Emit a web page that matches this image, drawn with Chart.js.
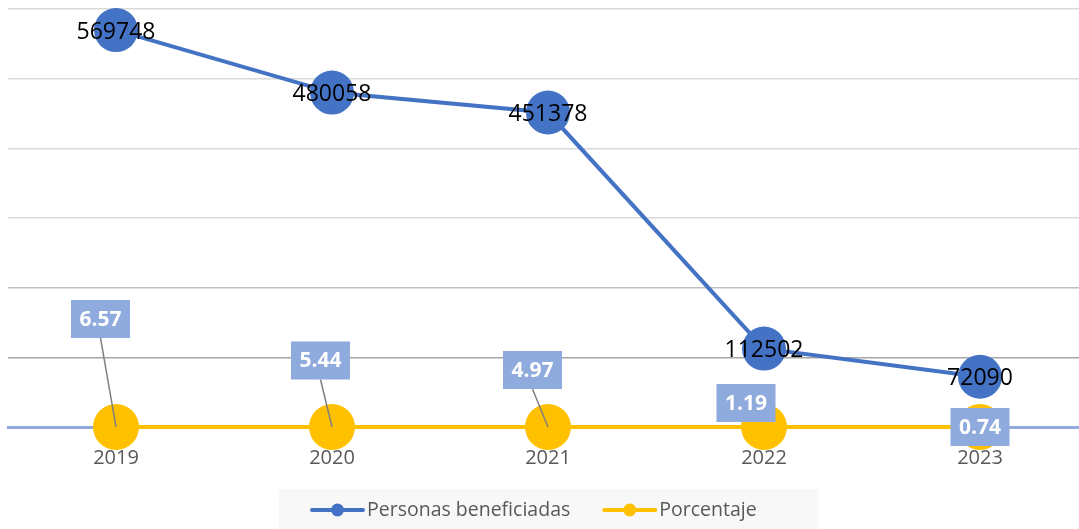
<!DOCTYPE html>
<html>
<head>
<meta charset="utf-8">
<script src="https://cdn.jsdelivr.net/npm/chart.js@4.4.1/dist/chart.umd.min.js"></script>
<style>
  html, body { margin: 0; padding: 0; background: #ffffff; overflow: hidden; }
  #wrap { position: relative; width: 1088px; height: 529px; }
  #chart { display: block; }
</style>
</head>
<body>
<div id="wrap"><canvas id="chart" width="1088" height="529"></canvas></div>
<script>
// Años y series
const years = ['2019', '2020', '2021', '2022', '2023'];
const personasBeneficiadas = [569748, 480058, 451378, 112502, 72090];
const porcentaje = [6.57, 5.44, 4.97, 1.19, 0.74];

// Eje vertical (sin etiquetas visibles)
const yMin = 0;
const yMax = 600000;
const yStep = 100000;

// Desplazamiento (px) de cada cuadro de porcentaje respecto a su punto
const pctLabelOffsets = [[-15.5, -108], [-11.5, -66.5], [-15.5, -57], [-18, -24], [0, 0]];

const BLUE = '#4472C4';
const GOLD = '#FFC000';
const LABEL_BG = '#8FAADC';
const TEXT_GRAY = '#595959';
const FONT = '"Open Sans", "Noto Sans", sans-serif';

// Etiquetas de valores y leyenda dibujadas sobre el lienzo
const labelsPlugin = {
  id: 'valueLabels',
  afterDatasetsDraw(chart) {
    const ctx = chart.ctx;
    ctx.save();

    // Personas beneficiadas: número centrado sobre el círculo
    const m0 = chart.getDatasetMeta(0);
    ctx.font = '23px ' + FONT;
    ctx.fillStyle = '#000000';
    ctx.textAlign = 'center';
    ctx.textBaseline = 'middle';
    m0.data.forEach((pt, i) => {
      ctx.fillText(String(personasBeneficiadas[i]), pt.x, pt.y + 2);
    });

    // Porcentaje: cuadro azul claro con línea guía
    const m1 = chart.getDatasetMeta(1);
    ctx.font = 'bold 21px ' + FONT;
    m1.data.forEach((pt, i) => {
      const [dx, dy] = pctLabelOffsets[i];
      const cx = pt.x + dx, cy = pt.y + dy;
      const txt = porcentaje[i].toFixed(2);
      const w = 59, h = 38;
      if (Math.hypot(dx, dy) > 35) {
        ctx.strokeStyle = '#7F7F7F';
        ctx.lineWidth = 1.5;
        ctx.beginPath();
        ctx.moveTo(cx, cy + h / 2);
        ctx.lineTo(pt.x, pt.y);
        ctx.stroke();
      }
      ctx.fillStyle = LABEL_BG;
      ctx.fillRect(cx - w / 2, cy - h / 2, w, h);
      ctx.fillStyle = '#FFFFFF';
      ctx.fillText(txt, cx, cy + 1);
    });

    ctx.restore();
  },
  afterDraw(chart) {
    const ctx = chart.ctx;
    ctx.save();
    // Caja de la leyenda
    const bx = 279, by = 489, bw = 539, bh = 40;
    ctx.fillStyle = '#F8F8F8';
    ctx.fillRect(bx, by, bw, bh);

    const items = [
      { text: 'Personas beneficiadas', color: BLUE },
      { text: 'Porcentaje', color: GOLD }
    ];
    ctx.font = '19.5px ' + FONT;
    ctx.textBaseline = 'middle';
    ctx.textAlign = 'left';
    const lineLen = 51, gapText = 4, gapItems = 34;
    const widths = items.map(it => ctx.measureText(it.text).width);
    let x = bx + 33;
    const yc = by + 21;
    items.forEach((it, i) => {
      ctx.strokeStyle = it.color;
      ctx.lineWidth = 4;
      ctx.lineCap = 'round';
      ctx.beginPath();
      ctx.moveTo(x, yc);
      ctx.lineTo(x + lineLen, yc);
      ctx.stroke();
      ctx.fillStyle = it.color;
      ctx.beginPath();
      ctx.arc(x + lineLen / 2, yc, 6.5, 0, Math.PI * 2);
      ctx.fill();
      ctx.fillStyle = TEXT_GRAY;
      ctx.fillText(it.text, x + lineLen + gapText, yc);
      x += lineLen + gapText + widths[i] + gapItems;
    });
    ctx.restore();
  }
};

new Chart(document.getElementById('chart'), {
  type: 'line',
  data: {
    labels: years,
    datasets: [
      {
        label: 'Personas beneficiadas',
        data: personasBeneficiadas,
        borderColor: BLUE,
        backgroundColor: BLUE,
        borderWidth: 4,
        pointRadius: 22,
        pointBorderWidth: 0,
        pointBackgroundColor: BLUE,
        tension: 0,
        clip: false
      },
      {
        label: 'Porcentaje',
        data: porcentaje,
        borderColor: GOLD,
        backgroundColor: GOLD,
        borderWidth: 4,
        pointRadius: 23,
        pointBorderWidth: 0,
        pointBackgroundColor: GOLD,
        tension: 0,
        clip: false
      }
    ]
  },
  options: {
    responsive: false,
    animation: false,
    events: [],
    layout: { autoPadding: false, padding: { left: 8, right: 0, top: 9, bottom: 40 } },
    plugins: {
      legend: { display: false },
      tooltip: { enabled: false }
    },
    scales: {
      x: {
        offset: true,
        grid: { display: false, drawTicks: false },
        border: { display: true, color: LABEL_BG, width: 3 },
        ticks: {
          padding: 19,
          color: TEXT_GRAY,
          font: { family: FONT, size: 20 }
        }
      },
      y: {
        min: yMin,
        max: yMax,
        ticks: { stepSize: yStep, display: false },
        border: { display: false },
        grid: {
          drawTicks: false,
          lineWidth: 1.5,
          color: (c) => {
            const v = c.tick ? c.tick.value : null;
            if (v === 0) return 'rgba(0,0,0,0)';
            if (v === 100000) return '#A6A6A6';
            if (v === 200000) return '#BFBFBF';
            return '#D9D9D9';
          }
        }
      }
    }
  },
  plugins: [labelsPlugin]
});
</script>
</body>
</html>
